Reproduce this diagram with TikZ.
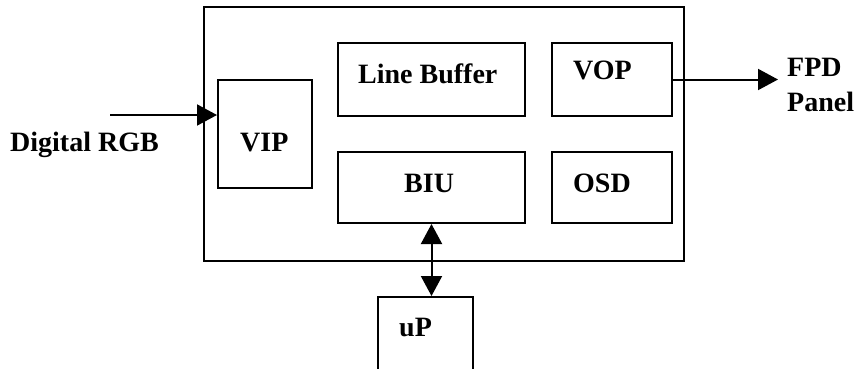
\documentclass[tikz,border=0pt]{standalone}
\usepackage{fontspec}
\setmainfont{Liberation Serif}
\usetikzlibrary{arrows.meta}

\tikzset{
	blk/.style={draw, line width=2pt, inner sep=0pt},
	lbl/.style={inner sep=0pt, anchor=base west, font=\fontsize{28}{30}\selectfont\bfseries},
	sig/.style={line width=2pt, -{Triangle[length=20pt,width=21pt]}},
}

\begin{document}
\begin{tikzpicture}[x=1pt, y=-1pt]
	\useasboundingbox (0,0) rectangle (863,368);
	
	% chip outline and blocks
	\node[blk, minimum width=480, minimum height=254] (chip) at (444,134) {};
	\node[blk, minimum width=94, minimum height=108] (vip) at (265,134) {};
	\node[blk, minimum width=187, minimum height=73] (lbuf) at (431.5,79.5) {};
	\node[blk, minimum width=120, minimum height=73] (vop) at (612,79.5) {};
	\node[blk, minimum width=187, minimum height=71] (biu) at (431.5,187.5) {};
	\node[blk, minimum width=120, minimum height=71] (osd) at (612,187.5) {};
	\node[blk, minimum width=95, minimum height=90, anchor=north] (up) at (425.5,296) {};
	
	\node[lbl] (vipname) at (240,151) {VIP};
	\node[lbl] (lbufname) at (358,83) {Line Buffer};
	\node[lbl] (vopname) at (573,79) {VOP};
	\node[lbl] (biuname) at (404,192) {BIU};
	\node[lbl] (osdname) at (573,192) {OSD};
	\node[lbl] (upname) at (399,336) {uP};
	
	% inputs and outputs
	\node[lbl] (rgb) at (10,151) {Digital RGB};
	\node[lbl] (fpd) at (787,76) {FPD};
	\node[lbl] (panel) at (787,111) {Panel};
	\coordinate (rgbin) at (110,115);
	\coordinate (fpdout) at (778,79.5);
	
	\draw[sig] (rgbin) -- (rgbin -| vip.west);
	\draw[sig] (vop.east) -- (fpdout);
	\draw[sig, {Triangle[length=20pt,width=21pt]}-{Triangle[length=20pt,width=21pt]}] (biu.south) -- (biu.south |- up.north);
\end{tikzpicture}
\end{document}
